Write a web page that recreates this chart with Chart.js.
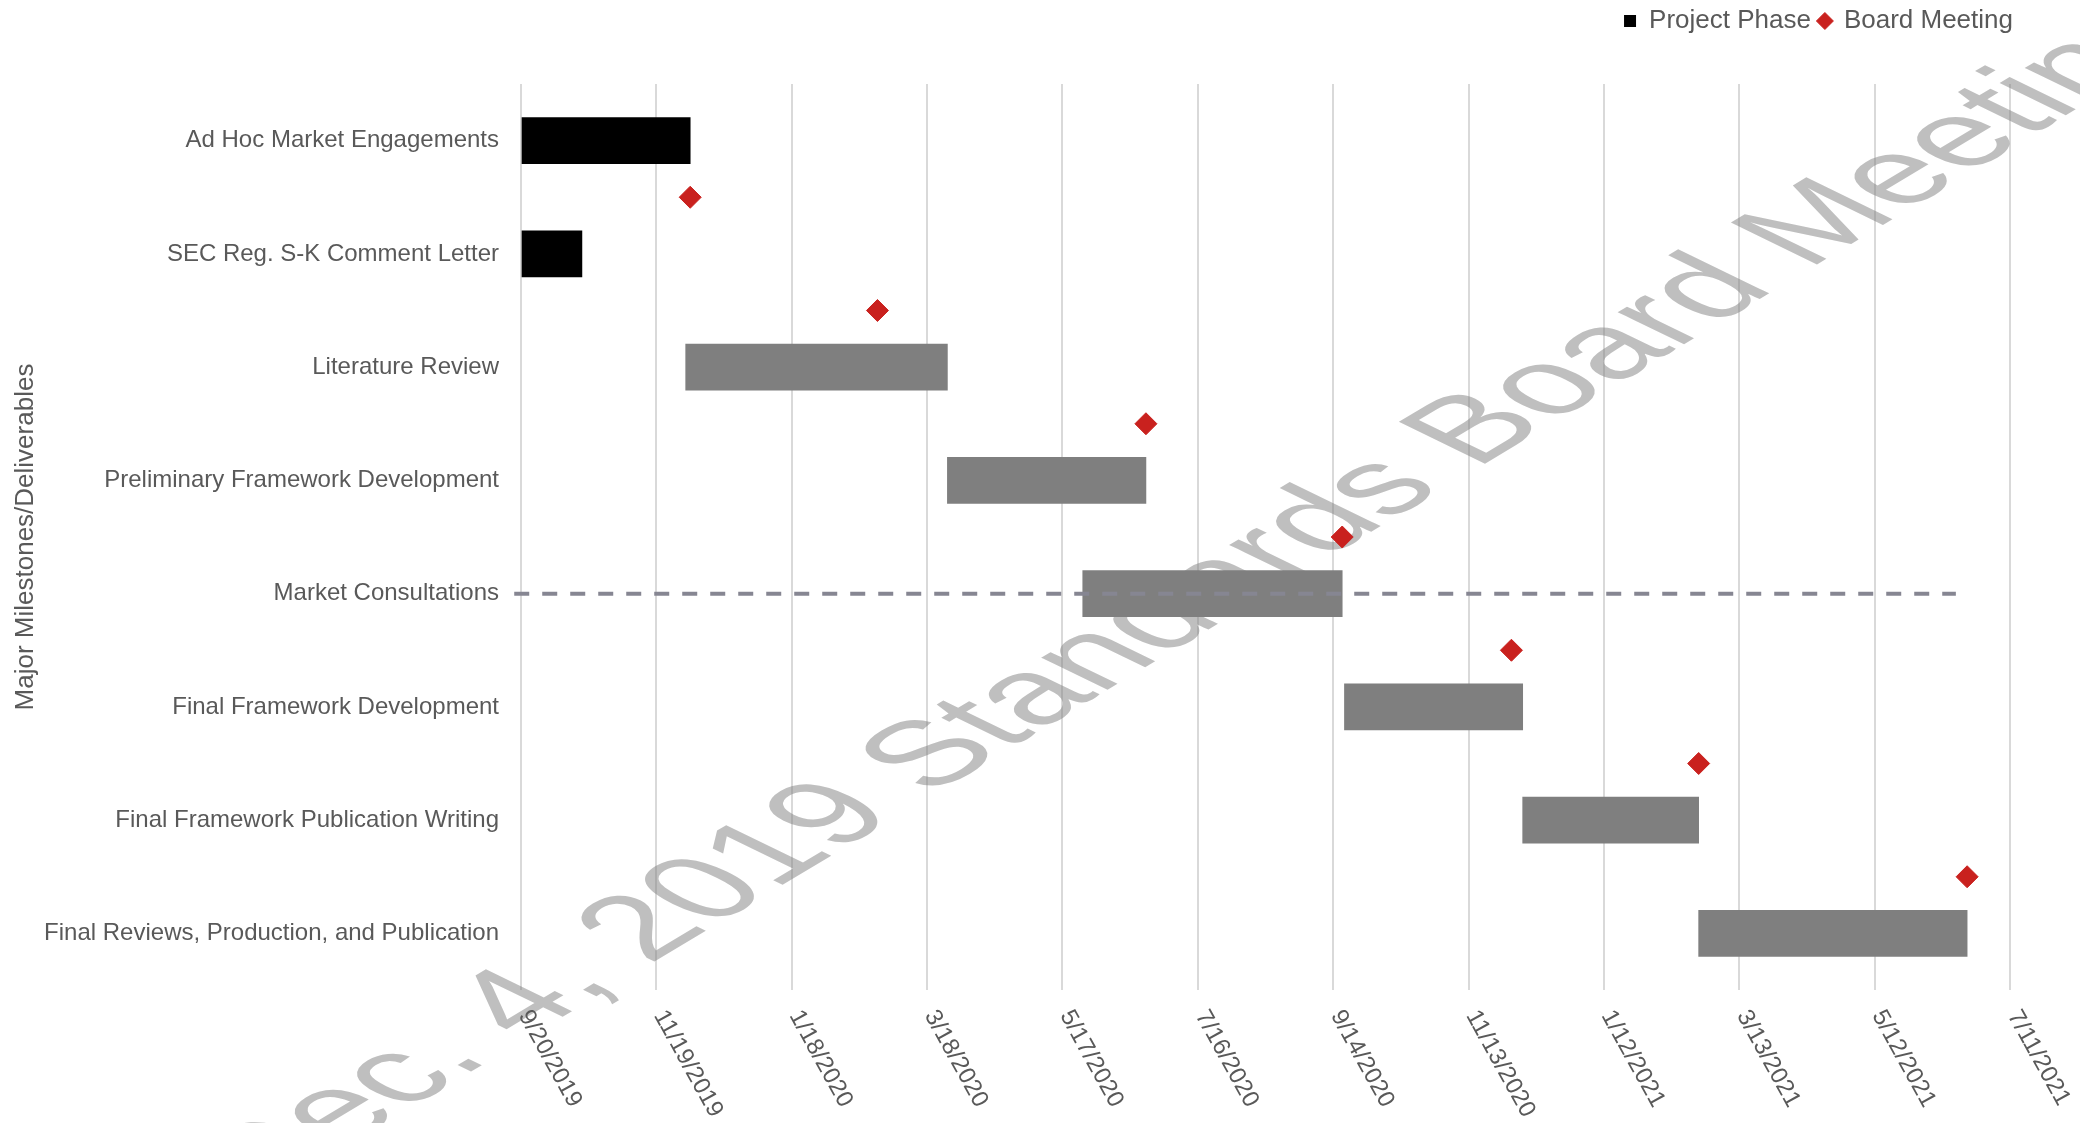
<!DOCTYPE html>
<html>
<head>
<meta charset="utf-8">
<title>Framework Project Timeline</title>
<script src="https://cdn.jsdelivr.net/npm/chart.js@4.4.1/dist/chart.umd.min.js"></script>
<style>
  html, body { margin: 0; padding: 0; background: #ffffff; }
  #wrap { position: relative; width: 2080px; height: 1123px; }
</style>
</head>
<body>
<div id="wrap"><canvas id="timeline"></canvas></div>
<script>
// timeline window and tick spacing (days)
const axisStart = '2019-09-20';
const axisEnd = '2021-07-11';
const tickStepDays = 60;

const phases = [
    'Ad Hoc Market Engagements',
    'SEC Reg. S-K Comment Letter',
    'Literature Review',
    'Preliminary Framework Development',
    'Market Consultations',
    'Final Framework Development',
    'Final Framework Publication Writing',
    'Final Reviews, Production, and Publication'
];
const phaseStarts = ['2019-09-20', '2019-09-20', '2019-12-02', '2020-03-27', '2020-05-26', '2020-09-19', '2020-12-07', '2021-02-23'];
const phaseEnds   = ['2019-12-04', '2019-10-17', '2020-03-27', '2020-06-23', '2020-09-18', '2020-12-07', '2021-02-23', '2021-06-22'];

// board meetings, each sits just above the phase it leads into
const meetingDates = ['2019-12-04', '2020-02-25', '2020-06-23', '2020-09-18', '2020-12-02', '2021-02-23', '2021-06-22'];
const meetingBeforePhase = [1, 2, 3, 4, 5, 6, 7];

// dashed guide across the consultations row
const consultationRow = 'Market Consultations';
const consultationSpan = ['2019-09-17', '2021-06-17'];

const watermarkText = 'Dec. 4, 2019 Standards Board Meeting';

const phaseColors = ['#000000', '#000000', '#7f7f7f', '#7f7f7f', '#7f7f7f', '#7f7f7f', '#7f7f7f', '#7f7f7f'];
const meetingColor = '#c9211e';
const textColor = '#595959';
const fontFamily = '"Liberation Sans", Arial, Helvetica, sans-serif';

const DAY_MS = 86400000;
const startMs = Date.parse(axisStart);
function dayOf(d) {
    return Math.round((Date.parse(d) - startMs) / DAY_MS);
}
function dateLabel(offset) {
    const d = new Date(startMs + offset * DAY_MS);
    return `${d.getUTCMonth() + 1}/${d.getUTCDate()}/${d.getUTCFullYear()}`;
}

const spanDays = dayOf(axisEnd);
const phaseBars = phases.map((p, i) => ({ x: [dayOf(phaseStarts[i]), dayOf(phaseEnds[i])], y: i }));
const meetings = meetingDates.map((d, i) => ({ x: dayOf(d), y: meetingBeforePhase[i] - 0.5 }));
const consultRowIndex = phases.indexOf(consultationRow);
const consultLine = consultationSpan.map(d => ({ x: dayOf(d), y: consultRowIndex }));

// extra room between the legend and the plot, legend nudged to the right edge
const legendGap = {
    id: 'legendGap',
    beforeInit(chart) {
        if (!chart.legend) return;
        const fit = chart.legend.fit;
        chart.legend.fit = function () {
            fit.call(this);
            this.height += 40;
        };
    },
    afterLayout(chart) {
        chart.legend.left += 11;
        chart.legend.right += 11;
    }
};

// big faded meeting stamp behind the bars
const watermark = {
    id: 'watermark',
    beforeDatasetsDraw(chart) {
        const ctx = chart.ctx;
        ctx.save();
        ctx.translate(1200, 597);
        ctx.scale(1.326, 0.716);
        ctx.rotate(-48 * Math.PI / 180);
        ctx.font = `127px ${fontFamily}`;
        ctx.fillStyle = 'rgba(128,128,128,0.5)';
        ctx.textAlign = 'center';
        ctx.textBaseline = 'middle';
        ctx.fillText(watermarkText, 0, 0);
        ctx.restore();
    }
};

// date labels slanting down to the right from each tick
const slantedDates = {
    id: 'slantedDates',
    afterDraw(chart) {
        const scale = chart.scales.x;
        const ctx = chart.ctx;
        ctx.save();
        ctx.font = `24px ${fontFamily}`;
        ctx.fillStyle = textColor;
        ctx.textAlign = 'left';
        ctx.textBaseline = 'middle';
        scale.ticks.forEach(tick => {
            ctx.save();
            ctx.translate(scale.getPixelForValue(tick.value) + 3, scale.top + 22);
            ctx.rotate(61 * Math.PI / 180);
            ctx.fillText(dateLabel(tick.value), 0, 0);
            ctx.restore();
        });
        ctx.restore();
    }
};

new Chart(document.getElementById('timeline'), {
    type: 'bar',
    data: {
        datasets: [
            {
                label: 'Project Phase',
                data: phaseBars,
                backgroundColor: phaseColors,
                borderWidth: 0,
                barThickness: 46,
                pointStyle: 'rect',
                order: 2
            },
            {
                type: 'scatter',
                label: 'Board Meeting',
                data: meetings,
                pointStyle: 'rectRot',
                pointRadius: 11,
                backgroundColor: meetingColor,
                borderColor: meetingColor,
                borderWidth: 1,
                order: 1
            },
            {
                type: 'line',
                label: 'Consultation window',
                data: consultLine,
                borderColor: '#868692',
                borderWidth: 4,
                borderDash: [15, 13],
                pointRadius: 0,
                fill: false,
                clip: false,
                order: 0
            }
        ]
    },
    options: {
        indexAxis: 'y',
        responsive: true,
        maintainAspectRatio: false,
        animation: false,
        layout: { padding: { left: 0, right: 70, top: 0, bottom: 133 } },
        plugins: {
            tooltip: { enabled: false },
            legend: {
                position: 'top',
                align: 'end',
                labels: {
                    usePointStyle: true,
                    boxWidth: 12,
                    boxHeight: 12,
                    padding: 8,
                    color: textColor,
                    font: { family: fontFamily, size: 26 },
                    filter: item => item.text !== 'Consultation window',
                    sort: (a, b) => a.datasetIndex - b.datasetIndex
                }
            }
        },
        scales: {
            x: {
                type: 'linear',
                bounds: 'data',
                min: 0,
                max: spanDays,
                afterBuildTicks(scale) {
                    const ticks = [];
                    for (let d = 0; d <= spanDays; d += tickStepDays) ticks.push({ value: d });
                    scale.ticks = ticks;
                    scale.min = 0;
                    scale.max = spanDays;
                },
                ticks: { display: false },
                grid: { color: '#d9d9d9', lineWidth: 2, drawTicks: false },
                border: { display: false }
            },
            y: {
                type: 'linear',
                bounds: 'data',
                offset: false,
                reverse: true,
                min: -0.5,
                max: phases.length - 0.5,
                afterBuildTicks(scale) {
                    scale.ticks = phases.map((p, i) => ({ value: i }));
                    scale.min = -0.5;
                    scale.max = phases.length - 0.5;
                },
                afterFit(scale) {
                    scale.width = 521;
                },
                ticks: {
                    autoSkip: false,
                    padding: 22,
                    color: textColor,
                    font: { family: fontFamily, size: 24 },
                    callback: value => phases[value]
                },
                grid: { display: false, drawTicks: false },
                border: { display: false },
                title: {
                    display: true,
                    text: 'Major Milestones/Deliverables',
                    color: textColor,
                    font: { family: fontFamily, size: 26 },
                    padding: { top: 10, bottom: 0 }
                }
            }
        }
    },
    plugins: [legendGap, watermark, slantedDates]
});
</script>
</body>
</html>
